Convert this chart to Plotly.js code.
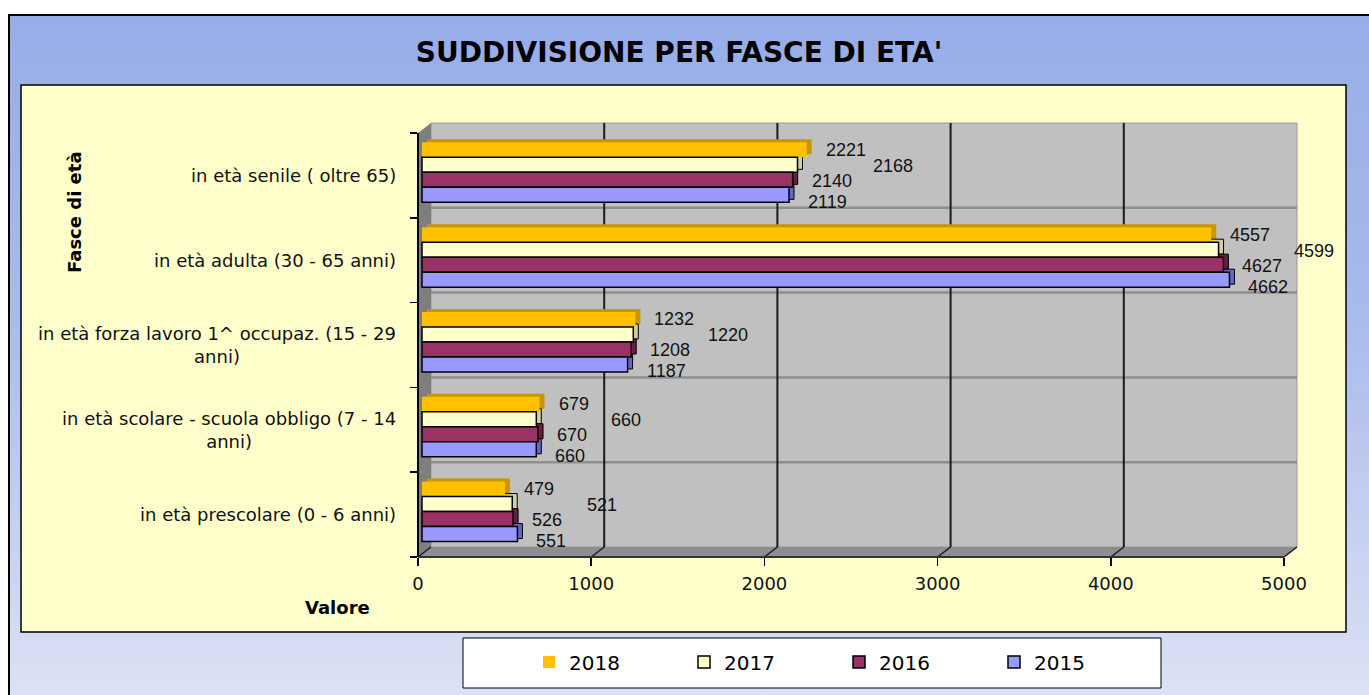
<!DOCTYPE html>
<html>
<head>
<meta charset="utf-8">
<script src="https://cdn.plot.ly/plotly-3.0.1.min.js"></script>
<style>
  html, body { margin: 0; padding: 0; background: #ffffff; width: 1369px; height: 695px; overflow: hidden; }
  #bg { position: absolute; left: 8px; top: 14px; width: 1400px; height: 700px;
        border-left: 2px solid #000; border-top: 2px solid #000;
        background: linear-gradient(to bottom, #97ADE8 0px, #A9BBEC 300px, #DCE2F5 681px); }
  #chart { position: absolute; left: 0; top: 0; width: 1369px; height: 695px; }
</style>
</head>
<body>
<div id="bg"></div>
<div id="chart"></div>
<script>
// ---------- data ----------
const categories = [
  "in età prescolare (0 - 6 anni)",
  "in età scolare - scuola obbligo (7 - 14 anni)",
  "in età forza lavoro 1^ occupaz. (15 - 29 anni)",
  "in età adulta (30 - 65 anni)",
  "in età senile ( oltre 65)"
];
const catLabels = [
  "in età prescolare (0 - 6 anni)",
  "in età scolare - scuola obbligo (7 - 14<br>anni)",
  "in età forza lavoro 1^ occupaz. (15 - 29<br>anni)",
  "in età adulta (30 - 65 anni)",
  "in età senile ( oltre 65)"
];
const years = ["2018", "2017", "2016", "2015"];
const v2018 = [479, 679, 1232, 4557, 2221];
const v2017 = [521, 660, 1220, 4599, 2168];
const v2016 = [526, 670, 1208, 4627, 2140];
const v2015 = [551, 660, 1187, 4662, 2119];
const xTicks = [0, 1000, 2000, 3000, 4000, 5000];

// ---------- styling / geometry ----------
const colors = ["#FFC000", "#FFFFCC", "#993366", "#9999FF"];
const sideColors = ["#C89600", "#CFCFA0", "#65203F", "#6666C4"];
const lineW = [0, 1.5, 1.5, 1.5];
const L = 418, R = 1298, T = 123, B = 557;       // plot area in px
const plotW = R - L, plotH = B - T;
const frontW = 866;                               // px from 0 to 5000 on the front axis
const xMax = 5000 * plotW / frontW;
const uPerPx = 5000 / frontW;
const axisTop = 133;
const catPx = (B - axisTop) / 5;
const wallDx = 13, wallDy = 10;
const X = p => (p - L) / plotW;
const Y = p => (B - p) / plotH;
const xpx = v => L + v / uPerPx;

const barW = 15 / catPx;
const groupBottom = -0.318;
const frontGap = 4 * uPerPx;
const sideX = 5, sideY = 3;

const seriesVals = [v2018, v2017, v2016, v2015];
const offsets = years.map((y, k) => groupBottom + (3 - k) * barW);

const traces = [];
// 3D side faces (drawn first)
seriesVals.forEach((vals, k) => {
  traces.push({
    type: 'bar', orientation: 'h', y: categories, x: vals,
    base: frontGap + sideX * uPerPx,
    offset: offsets[k] + sideY / catPx, width: barW,
    marker: { color: sideColors[k], line: { color: '#000', width: lineW[k] ? 1 : 0 } },
    showlegend: false, hoverinfo: 'skip'
  });
});
// front faces
seriesVals.forEach((vals, k) => {
  traces.push({
    type: 'bar', orientation: 'h', y: categories, x: vals, name: years[k],
    base: frontGap, offset: offsets[k], width: barW,
    marker: { color: colors[k], line: { color: '#000', width: lineW[k] } },
    textposition: 'none'
  });
});

// ---------- shapes (chart frame, 3D walls, gridlines) ----------
const shapes = [];
const rectPx = (x0, y0, x1, y1, fill, lc, lw) => shapes.push({
  type: 'rect', xref: 'paper', yref: 'paper', layer: 'below',
  x0: X(x0), x1: X(x1), y0: Y(y0), y1: Y(y1),
  fillcolor: fill, line: { color: lc, width: lw }
});
const linePx = (x0, y0, x1, y1, lc, lw) => shapes.push({
  type: 'line', xref: 'paper', yref: 'paper', layer: 'below',
  x0: X(x0), x1: X(x1), y0: Y(y0), y1: Y(y1), line: { color: lc, width: lw }
});
const pathPx = (pts, fill) => shapes.push({
  type: 'path', xref: 'paper', yref: 'paper', layer: 'below',
  path: 'M' + pts.map(p => X(p[0]) + ',' + Y(p[1])).join(' L') + ' Z',
  fillcolor: fill, line: { width: 0 }
});

rectPx(21, 85, 1346, 632, '#FFFFCC', '#000', 1.5);          // chart area
rectPx(463, 638, 1161, 688, '#FFFFFF', '#000', 1);          // legend box
const xEnd = xpx(5000);
rectPx(L + wallDx, T, xEnd + wallDx, B - wallDy, '#C0C0C0', '#9A9A9A', 1); // back wall
pathPx([[L, B], [L, axisTop], [L + wallDx, T], [L + wallDx, B - wallDy]], '#7E7E7E'); // left wall
pathPx([[L, B], [L + wallDx, B - wallDy], [xEnd + wallDx, B - wallDy], [xEnd, B]], '#8E8E8E'); // floor
// horizontal lines on back wall at category boundaries
for (let k = 1; k < 5; k++) {
  const py = axisTop + k * catPx - wallDy;
  linePx(L + wallDx, py, xEnd + wallDx, py, '#8E8E8E', 2.5);
}
// vertical gridlines on back wall + floor diagonals
xTicks.forEach(v => {
  const px = xpx(v);
  if (v > 0 && v < 5000) linePx(px + wallDx, B - wallDy, px + wallDx, T, '#1A1A1A', 2);
  linePx(px, B, px + wallDx, B - wallDy, '#1A1A1A', 1.5);
});
// axis lines
linePx(L, axisTop, L, B, '#000', 2);
linePx(L, B, xEnd, B, '#333', 2);

// ---------- annotations ----------
const annotations = [];
// category labels
categories.forEach((c, i) => {
  annotations.push({
    xref: 'paper', yref: 'y', x: X(398), y: c, xanchor: 'right', yanchor: 'middle',
    text: catLabels[i], align: 'center', showarrow: false,
    font: { family: 'DejaVu Sans', size: 18, color: '#111' }
  });
});
// value labels
const labelShiftX = [17, 73, 17, 17];
const labelDown = [0, 1, 1, 7];
seriesVals.forEach((vals, k) => {
  vals.forEach((v, i) => {
    annotations.push({
      xref: 'x', yref: 'y', x: v, y: categories[i], xanchor: 'left', yanchor: 'middle',
      xshift: 4 + labelShiftX[k],
      yshift: (offsets[k] + barW / 2) * catPx - labelDown[k],
      text: String(v), showarrow: false,
      font: { family: 'Liberation Sans', size: 18, color: '#111' }
    });
  });
});
// axis titles
annotations.push({
  xref: 'paper', yref: 'paper', x: X(75), y: Y(212), textangle: -90,
  text: '<b>Fasce di età</b>', showarrow: false, xanchor: 'center', yanchor: 'middle',
  font: { family: 'DejaVu Sans', size: 18, color: '#000' }
});
annotations.push({
  xref: 'paper', yref: 'paper', x: X(337), y: Y(607),
  text: '<b>Valore</b>', showarrow: false, xanchor: 'center', yanchor: 'middle',
  font: { family: 'DejaVu Sans', size: 18, color: '#000' }
});

const layout = {
  width: 1369, height: 695,
  paper_bgcolor: 'rgba(0,0,0,0)', plot_bgcolor: 'rgba(0,0,0,0)',
  margin: { l: L, r: 1369 - R, t: T, b: 695 - B, autoexpand: false },
  title: {
    text: "<b>SUDDIVISIONE PER FASCE DI ETA'</b>",
    xref: 'container', yref: 'container', x: 679 / 1369, y: 1 - 52 / 695,
    xanchor: 'center', yanchor: 'middle',
    font: { family: 'DejaVu Sans', size: 28, color: '#000' }
  },
  barmode: 'overlay',
  xaxis: {
    range: [0, xMax], tickvals: xTicks, ticktext: xTicks.map(String),
    ticks: 'outside', ticklen: 8, tickwidth: 1.5, tickcolor: '#000',
    showgrid: false, zeroline: false, showline: false, fixedrange: true,
    ticklabelstandoff: 2,
    tickfont: { family: 'DejaVu Sans', size: 18, color: '#111' }
  },
  yaxis: {
    type: 'category', categoryorder: 'array', categoryarray: categories,
    range: [-0.5, 4.5 + (axisTop - T) / catPx],
    tickson: 'boundaries', ticks: 'outside', ticklen: 7, tickwidth: 1.5, tickcolor: '#000',
    showticklabels: false, showgrid: false, zeroline: false, showline: false, fixedrange: true
  },
  legend: {
    orientation: 'h', x: X(529), xanchor: 'left', y: Y(662), yanchor: 'middle',
    bgcolor: 'rgba(0,0,0,0)', borderwidth: 0,
    entrywidth: 110, entrywidthmode: 'pixels',
    font: { family: 'DejaVu Sans', size: 20, color: '#000' }
  },
  shapes: shapes,
  annotations: annotations,
  showlegend: true
};

Plotly.newPlot('chart', traces, layout, { displayModeBar: false, staticPlot: true });
</script>
</body>
</html>
